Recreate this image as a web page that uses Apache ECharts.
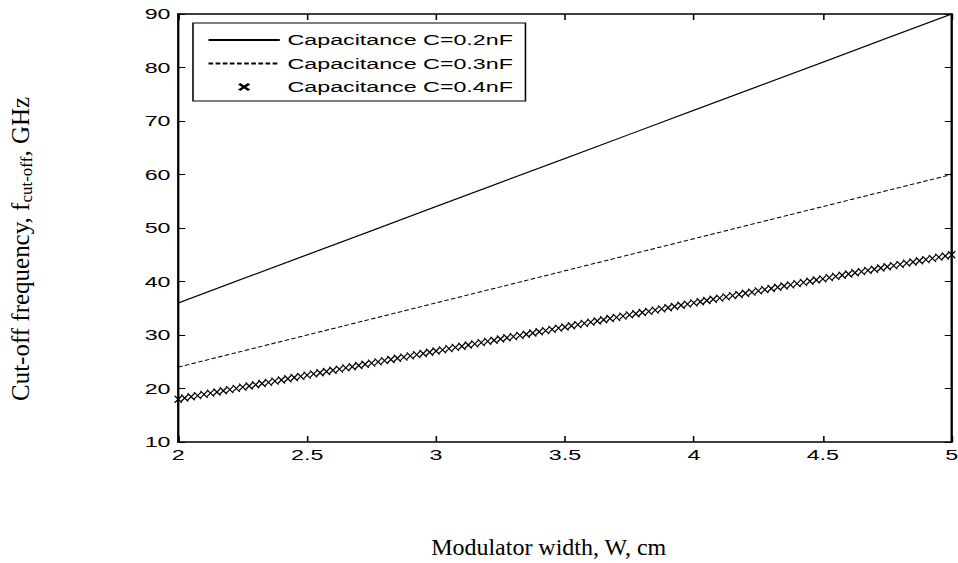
<!DOCTYPE html>
<html><head><meta charset="utf-8">
<script src="https://cdn.jsdelivr.net/npm/echarts@6/dist/echarts.min.js"></script>
<style>
html,body{margin:0;padding:0;overflow:hidden;background:#fff;width:958px;height:563px}
#chart{width:618px;height:563px;transform:scaleX(1.55);transform-origin:0 0;}
</style>
</head><body><div id="chart"></div>
<script>
// ---- data ----
const seriesNames = ['Capacitance C=0.2nF', 'Capacitance C=0.3nF', 'Capacitance C=0.4nF'];
const widthLine = [2, 2.25, 2.5, 2.75, 3, 3.25, 3.5, 3.75, 4, 4.25, 4.5, 4.75, 5];
const cutoff02 = [36, 40.5, 45, 49.5, 54, 58.5, 63, 67.5, 72, 76.5, 81, 85.5, 90];
const cutoff03 = [24, 27, 30, 33, 36, 39, 42, 45, 48, 51, 54, 57, 60];
const widthMark = [2, 2.025, 2.05, 2.075, 2.1, 2.125, 2.15, 2.175, 2.2, 2.225, 2.25, 2.275, 2.3, 2.325, 2.35, 2.375, 2.4, 2.425, 2.45, 2.475,
  2.5, 2.525, 2.55, 2.575, 2.6, 2.625, 2.65, 2.675, 2.7, 2.725, 2.75, 2.775, 2.8, 2.825, 2.85, 2.875, 2.9, 2.925, 2.95, 2.975,
  3, 3.025, 3.05, 3.075, 3.1, 3.125, 3.15, 3.175, 3.2, 3.225, 3.25, 3.275, 3.3, 3.325, 3.35, 3.375, 3.4, 3.425, 3.45, 3.475,
  3.5, 3.525, 3.55, 3.575, 3.6, 3.625, 3.65, 3.675, 3.7, 3.725, 3.75, 3.775, 3.8, 3.825, 3.85, 3.875, 3.9, 3.925, 3.95, 3.975,
  4, 4.025, 4.05, 4.075, 4.1, 4.125, 4.15, 4.175, 4.2, 4.225, 4.25, 4.275, 4.3, 4.325, 4.35, 4.375, 4.4, 4.425, 4.45, 4.475,
  4.5, 4.525, 4.55, 4.575, 4.6, 4.625, 4.65, 4.675, 4.7, 4.725, 4.75, 4.775, 4.8, 4.825, 4.85, 4.875, 4.9, 4.925, 4.95, 4.975, 5];
const cutoff04 = [18, 18.225, 18.45, 18.675, 18.9, 19.125, 19.35, 19.575, 19.8, 20.025, 20.25, 20.475, 20.7, 20.925, 21.15, 21.375, 21.6, 21.825, 22.05, 22.275,
  22.5, 22.725, 22.95, 23.175, 23.4, 23.625, 23.85, 24.075, 24.3, 24.525, 24.75, 24.975, 25.2, 25.425, 25.65, 25.875, 26.1, 26.325, 26.55, 26.775,
  27, 27.225, 27.45, 27.675, 27.9, 28.125, 28.35, 28.575, 28.8, 29.025, 29.25, 29.475, 29.7, 29.925, 30.15, 30.375, 30.6, 30.825, 31.05, 31.275,
  31.5, 31.725, 31.95, 32.175, 32.4, 32.625, 32.85, 33.075, 33.3, 33.525, 33.75, 33.975, 34.2, 34.425, 34.65, 34.875, 35.1, 35.325, 35.55, 35.775,
  36, 36.225, 36.45, 36.675, 36.9, 37.125, 37.35, 37.575, 37.8, 38.025, 38.25, 38.475, 38.7, 38.925, 39.15, 39.375, 39.6, 39.825, 40.05, 40.275,
  40.5, 40.725, 40.95, 41.175, 41.4, 41.625, 41.85, 42.075, 42.3, 42.525, 42.75, 42.975, 43.2, 43.425, 43.65, 43.875, 44.1, 44.325, 44.55, 44.775, 45];
const xMin = 2, xMax = 5, xStep = 0.5;
const yMin = 10, yMax = 90, yStep = 10;
const xTitle = 'Modulator width, W, cm';
const yTitleMain = 'Cut-off frequency, f';
const yTitleSub = 'cut-off';
const yTitleEnd = ', GHz';

// ---- rendering ----
const STRETCH = 1.55;
const SANS = '"Liberation Sans", Arial, sans-serif';
const SERIF = '"Liberation Serif", "Times New Roman", serif';
const pairs = (xs, ys) => xs.map((x, i) => [x, ys[i]]);

const chart = echarts.init(document.getElementById('chart'), null, {renderer: 'svg'});

const axisLine = {show: true, onZero: false, lineStyle: {color: '#000', width: 1.5}};
const labelStyle = {color: '#000', fontSize: 15, fontFamily: SANS};

chart.setOption({
  animation: false,
  backgroundColor: '#fff',
  grid: {left: 115, right: 4, top: 14, bottom: 121, containLabel: false, outerBoundsMode: 'none'},
  xAxis: [
    {type: 'value', min: xMin, max: xMax, interval: xStep, position: 'bottom',
     axisLine: axisLine, axisTick: {show: true, inside: true, length: 6, lineStyle: {color: '#000', width: 1}},
     axisLabel: Object.assign({margin: 5}, labelStyle), splitLine: {show: false}},
    {type: 'value', min: xMin, max: xMax, interval: xStep, position: 'top',
     axisLine: axisLine, axisTick: {show: true, inside: true, length: 6, lineStyle: {color: '#000', width: 1}},
     axisLabel: {show: false}, splitLine: {show: false}}
  ],
  yAxis: [
    {type: 'value', min: yMin, max: yMax, interval: yStep, position: 'left',
     axisLine: axisLine, axisTick: {show: true, inside: true, length: 4.5, lineStyle: {color: '#000', width: 1}},
     axisLabel: Object.assign({margin: 5}, labelStyle), splitLine: {show: false}},
    {type: 'value', min: yMin, max: yMax, interval: yStep, position: 'right',
     axisLine: axisLine, axisTick: {show: true, inside: true, length: 4.5, lineStyle: {color: '#000', width: 1}},
     axisLabel: {show: false}, splitLine: {show: false}}
  ],
  legend: {
    orient: 'vertical', left: 124.5, top: 23,
    padding: [9.5, 8, 6.5, 9], itemGap: 8.5, itemWidth: 46, itemHeight: 8,
    borderColor: '#000', borderWidth: 1, borderRadius: 0, backgroundColor: '#fff',
    textStyle: {color: '#000', fontSize: 15, lineHeight: 15, fontFamily: SANS},
    selectedMode: false,
    data: [
      {name: seriesNames[0], itemStyle: {opacity: 0}},
      {name: seriesNames[1], itemStyle: {opacity: 0}},
      {name: seriesNames[2]}
    ]
  },
  series: [
    {name: seriesNames[0], type: 'line', data: pairs(widthLine, cutoff02), symbol: 'none',
     lineStyle: {color: '#000', width: 1.1}, itemStyle: {color: '#000'}},
    {name: seriesNames[1], type: 'line', data: pairs(widthLine, cutoff03), symbol: 'none',
     lineStyle: {color: '#000', width: 1, type: [3, 1.6]}, itemStyle: {color: '#000'}},
    {name: seriesNames[2], type: 'line', data: pairs(widthMark, cutoff04),
     symbol: 'path://M0,0L10,10M0,10L10,0', symbolSize: [4.6, 7],
     lineStyle: {width: 0, opacity: 0},
     itemStyle: {color: 'rgba(0,0,0,0)', borderColor: '#000', borderWidth: 1}}
  ],
  graphic: [
    {type: 'text', x: 354, y: 547, scaleX: 1 / STRETCH,
     style: {text: xTitle, fontSize: 24, fontFamily: SERIF, fill: '#000', align: 'center', verticalAlign: 'middle'}},
    {type: 'text', x: 13.5, y: 249, rotation: Math.PI / 2, scaleY: 1 / STRETCH,
     style: {text: yTitleMain + '{sub|' + yTitleSub + '}' + yTitleEnd, fontSize: 25, lineHeight: 29, fontFamily: SERIF,
       fill: '#000', align: 'center', verticalAlign: 'middle',
       rich: {sub: {fontSize: 17, lineHeight: 17, fontFamily: SERIF, fill: '#000', verticalAlign: 'bottom'}}}}
  ]
});
</script>
</body></html>
